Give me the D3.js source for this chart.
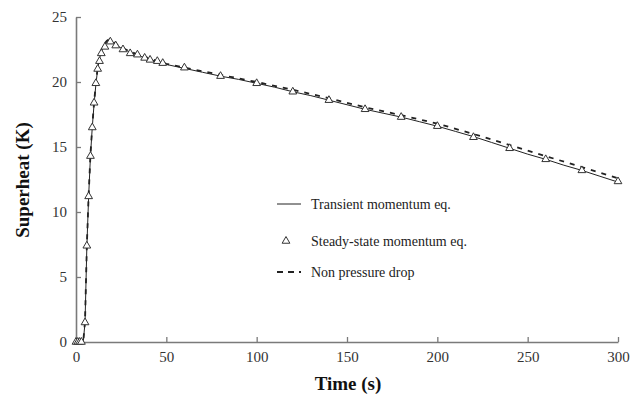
<!DOCTYPE html>
<html>
<head>
<meta charset="utf-8">
<script src="https://cdn.jsdelivr.net/npm/d3@7/dist/d3.min.js"></script>
<style>
  html, body { margin: 0; padding: 0; background: #fff; }
  svg { display: block; }
  text { font-family: "Liberation Serif", "Times New Roman", serif; }
</style>
</head>
<body>
<svg id="chart" width="633" height="399"></svg>
<script>
// Superheat response over time for three model variants

// Transient momentum equation (solid line)
const transientTime = [0, 1, 2, 3, 4, 5, 6, 7, 8, 9, 10, 11, 12, 13, 14, 15, 16, 17, 18, 19, 20, 22, 25, 30, 35, 40, 45, 50, 60, 70, 80, 90, 100, 110, 120, 130, 140, 150, 160, 170, 180, 190, 200, 210, 220, 230, 240, 250, 260, 270, 280, 290, 300];
const transientValue = [0, 0, 0, 0, 0, 1.5, 7.3, 11.2, 14.3, 16.5, 18.3, 19.8, 21.0, 21.8, 22.3, 22.7, 22.9, 23.1, 23.2, 23.2, 23.1, 22.9, 22.6, 22.3, 22.0, 21.8, 21.55, 21.35, 21.05, 20.75, 20.45, 20.2, 19.9, 19.6, 19.25, 18.95, 18.6, 18.25, 17.9, 17.6, 17.3, 16.95, 16.6, 16.2, 15.8, 15.35, 14.9, 14.45, 14.05, 13.6, 13.2, 12.75, 12.3];

// Steady-state momentum equation (triangles)
const steadyTime = [0, 1, 2, 3, 5, 6, 7, 8, 9, 10, 11, 12, 13, 14, 16, 19, 22, 26, 30, 34, 38, 41, 45, 48, 60, 80, 100, 120, 140, 160, 180, 200, 220, 240, 260, 280, 300];
const steadyValue = [0, 0, 0, 0, 1.5, 7.4, 11.2, 14.3, 16.5, 18.4, 19.9, 21.0, 21.6, 22.2, 22.7, 23.1, 22.8, 22.5, 22.2, 22.1, 21.85, 21.7, 21.6, 21.45, 21.1, 20.45, 19.9, 19.25, 18.6, 17.9, 17.3, 16.6, 15.75, 14.9, 14.05, 13.2, 12.35];

// Non pressure drop (dashed line)
const noDropTime = [0, 1, 2, 3, 4, 5, 6, 7, 8, 9, 10, 11, 12, 13, 14, 15, 16, 17, 18, 19, 20, 22, 25, 30, 35, 40, 45, 50, 60, 80, 100, 120, 140, 160, 180, 200, 220, 240, 260, 280, 300];
const noDropValue = [0, 0, 0, 0, 0, 1.6, 7.4, 11.3, 14.4, 16.6, 18.4, 19.9, 21.1, 21.9, 22.4, 22.8, 23.0, 23.15, 23.25, 23.25, 23.15, 22.95, 22.65, 22.35, 22.05, 21.85, 21.6, 21.4, 21.1, 20.55, 20.0, 19.4, 18.75, 18.05, 17.45, 16.8, 16.0, 15.15, 14.3, 13.45, 12.6];

const xTicks = [0, 50, 100, 150, 200, 250, 300];
const yTicks = [0, 5, 10, 15, 20, 25];

const legendLabels = ["Transient momentum eq.", "Steady-state momentum eq.", "Non pressure drop"];

const svg = d3.select("#chart");
const plot = { left: 76, right: 618, top: 17, bottom: 342 };

const x = d3.scaleLinear().domain([0, 300]).range([plot.left, plot.right]);
const y = d3.scaleLinear().domain([0, 25]).range([plot.bottom, plot.top]);

const axisColor = "#7a7a7a";
const inkColor = "#222";

// Axes
const xAxis = svg.append("g")
  .attr("transform", `translate(0,${plot.bottom})`)
  .call(d3.axisBottom(x).tickValues(xTicks).tickSizeInner(-5).tickSizeOuter(0).tickPadding(9));
const yAxis = svg.append("g")
  .attr("transform", `translate(${plot.left},0)`)
  .call(d3.axisLeft(y).tickValues(yTicks).tickSizeInner(-5).tickSizeOuter(0).tickPadding(9));

[xAxis, yAxis].forEach(g => {
  g.select(".domain").attr("stroke", axisColor).attr("stroke-width", 1.6);
  g.selectAll(".tick line").attr("stroke", axisColor).attr("stroke-width", 1.3);
  g.selectAll(".tick text")
    .attr("fill", "#333")
    .style("font-family", '"Liberation Serif", serif')
    .style("font-size", "15px");
});

// Axis titles
svg.append("text")
  .attr("x", 348)
  .attr("y", 390)
  .attr("text-anchor", "middle")
  .attr("fill", "#111")
  .style("font-weight", "bold")
  .style("font-size", "19px")
  .text("Time (s)");

svg.append("text")
  .attr("transform", `translate(29,180) rotate(-90)`)
  .attr("text-anchor", "middle")
  .attr("fill", "#111")
  .style("font-weight", "bold")
  .style("font-size", "19px")
  .text("Superheat (K)");

// Series
const toPoints = (ts, vs) => ts.map((t, i) => [t, vs[i]]);
const line = d3.line().x(d => x(d[0])).y(d => y(d[1]));

svg.append("path")
  .datum(toPoints(noDropTime, noDropValue))
  .attr("d", line)
  .attr("fill", "none")
  .attr("stroke", inkColor)
  .attr("stroke-width", 1.8)
  .attr("stroke-dasharray", "5,6");

svg.append("path")
  .datum(toPoints(transientTime, transientValue))
  .attr("d", line)
  .attr("fill", "none")
  .attr("stroke", inkColor)
  .attr("stroke-width", 1);

const tri = d3.symbol().type(d3.symbolTriangle).size(26);
svg.append("g")
  .selectAll("path")
  .data(toPoints(steadyTime, steadyValue))
  .join("path")
  .attr("transform", d => `translate(${x(d[0])},${y(d[1])})`)
  .attr("d", tri)
  .attr("fill", "white")
  .attr("stroke", "#333")
  .attr("stroke-width", 1);

// Legend
const legend = svg.append("g");
const lx = 277, ly = [204, 241, 272];

legend.append("line")
  .attr("x1", lx).attr("x2", lx + 24)
  .attr("y1", ly[0]).attr("y2", ly[0])
  .attr("stroke", inkColor).attr("stroke-width", 1);

legend.append("path")
  .attr("transform", `translate(${lx + 9},${ly[1]})`)
  .attr("d", tri)
  .attr("fill", "white")
  .attr("stroke", "#333");

legend.append("line")
  .attr("x1", lx).attr("x2", lx + 24)
  .attr("y1", ly[2]).attr("y2", ly[2])
  .attr("stroke", inkColor).attr("stroke-width", 2)
  .attr("stroke-dasharray", "6,5");

legend.selectAll("text.lab")
  .data(legendLabels)
  .join("text")
  .attr("class", "lab")
  .attr("x", lx + 34)
  .attr("y", (d, i) => ly[i])
  .attr("dy", "0.33em")
  .attr("fill", "#222")
  .style("font-size", "14px")
  .text(d => d);
</script>
</body>
</html>
